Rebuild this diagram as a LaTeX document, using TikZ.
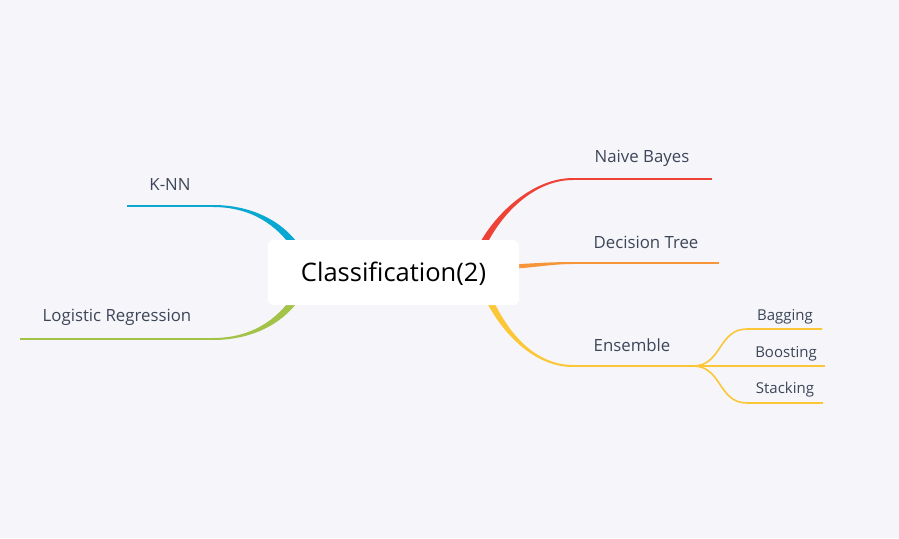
\documentclass[tikz,border=0pt]{standalone}
\usepackage{fontspec}
\setmainfont{Open Sans}
\usetikzlibrary{calc}
\definecolor{bgc}{RGB}{245,245,250}
\definecolor{txt}{RGB}{61,70,88}
\definecolor{cblue}{RGB}{8,168,210}
\definecolor{cgreen}{RGB}{163,194,72}
\definecolor{cred}{RGB}{238,66,54}
\definecolor{corange}{RGB}{247,150,56}
\definecolor{cyellow}{RGB}{252,199,55}
\pgfdeclarelayer{back}
\pgfdeclarelayer{bg}
\pgfsetlayers{back,bg,main}
\begin{document}
\begin{tikzpicture}[x=1pt,y=-1pt,
  root/.style={fill=white,rounded corners=6pt,minimum width=251pt,minimum height=65pt,inner sep=0pt,text height=20pt,text depth=2.6pt,font=\fontsize{25.5}{30}\selectfont,text=black},
  lab/.style={text=txt,font=\fontsize{16.8}{20}\selectfont,inner sep=0pt},
  sublab/.style={text=txt,font=\fontsize{15}{18}\selectfont,inner sep=0pt},
  hline/.style={line width=2pt},
  subline/.style={line width=1.6pt,cyellow}]
\begin{pgfonlayer}{back}
\fill[bgc] (0,0) rectangle (899,538);
\end{pgfonlayer}
\useasboundingbox (0,0) rectangle (899,538);

\node[root] (C) at (393.5,272.5) {Classification(2)};

\node[lab] (knn) at (170,185) {K-NN};
\node[lab] (lr) at (117,317) {Logistic Regression};
\node[lab] (nb) at (642,158) {Naive Bayes};
\node[lab] (dt) at (646,242) {Decision Tree};
\node[lab] (ens) at (632,345) {Ensemble};
\node[sublab] (bag) at (785,316.5) {Bagging};
\node[sublab] (boo) at (786,353.5) {Boosting};
\node[sublab] (sta) at (785,389.5) {Stacking};

\coordinate (kB) at (213,206);
\coordinate (kE) at (127,206);
\coordinate (lB) at (213,339);
\coordinate (lE) at (20,339);
\coordinate (nB) at (573,179);
\coordinate (nE) at (712,179);
\coordinate (dB) at (573,263);
\coordinate (dE) at (719,263);
\coordinate (eB) at (573,366);
\coordinate (eE) at (693,366);
\coordinate (bB) at (747,329);
\coordinate (bE) at (822,329);
\coordinate (oB) at (747,366);
\coordinate (oE) at (825,366);
\coordinate (sB) at (747,403);
\coordinate (sE) at (823,403);

\begin{pgfonlayer}{bg}
% K-NN
\fill[cblue] ($(kB)+(0,-1)$) .. controls (250,205) and (283,220) .. (301,248)
  -- (295,252) .. controls (277,224) and (250,207) .. ($(kB)+(0,1)$) -- cycle;
\draw[hline,cblue] (kE) -- (kB);
% Logistic Regression
\fill[cgreen] ($(lB)+(0,1)$) .. controls (250,340) and (283,325) .. (301,297)
  -- (295,293) .. controls (277,321) and (250,338) .. ($(lB)+(0,-1)$) -- cycle;
\draw[hline,cgreen] (lE) -- (lB);
% Naive Bayes
\fill[cred] (481.5,256) .. controls (495,221) and (530,180) .. ($(nB)+(0,1)$)
  -- ($(nB)+(0,-1)$) .. controls (530,178) and (489,219) .. (474.5,254) -- cycle;
\draw[hline,cred] (nB) -- (nE);
% Decision Tree
\fill[corange] (505,265) .. controls (530,263.5) and (550,262) .. ($(dB)+(0,-1)$)
  -- ($(dB)+(0,1)$) .. controls (550,264) and (530,268.5) .. (505,269) -- cycle;
\draw[hline,corange] (dB) -- (dE);
% Ensemble
\fill[cyellow] (488.5,289) .. controls (502,324) and (530,365) .. ($(eB)+(0,-1)$)
  -- ($(eB)+(0,1)$) .. controls (530,367) and (496,326) .. (481.5,291) -- cycle;
\draw[hline,cyellow] (eB) -- (eE);
% sub-branches
\draw[subline] (eE) .. controls (722,366) and (718,329) .. (bB) -- (bE);
\draw[subline] (eE) -- (oB) -- (oE);
\draw[subline] (eE) .. controls (722,366) and (718,403) .. (sB) -- (sE);
\end{pgfonlayer}
\end{tikzpicture}
\end{document}
